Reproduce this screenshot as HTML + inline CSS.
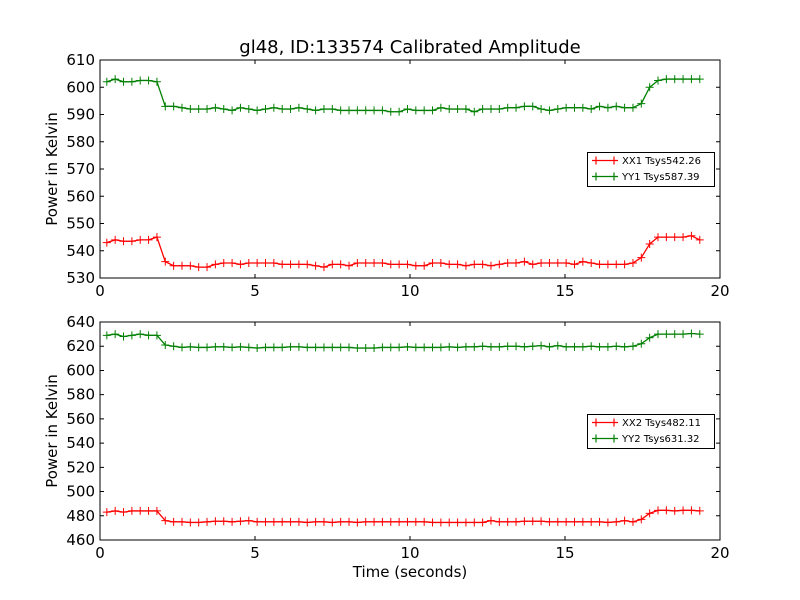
<!DOCTYPE html>
<html><head><meta charset="utf-8"><style>
html,body{margin:0;padding:0;background:#fff;}
svg{display:block;font-family:"DejaVu Sans","Liberation Sans",sans-serif;}
</style></head><body>
<svg id="chart" width="800" height="600" viewBox="0 0 800 600"></svg>
<script>
// Data
const tStart = 0.22, tStep = 0.2694;
const xx1 = [543,544,543.5,543.5,544,544,545,
 536,534.5,534.5,534.5,534,534,535,535.5,535.5,535,
 535.5,535.5,535.5,535.5,535,535,535,535,534.5,534,
 535,535,534.5,535.5,535.5,535.5,535.5,535,535,535,
 534.5,534.5,535.5,535.5,535,535,534.5,535,535,534.5,
 535,535.5,535.5,536,535,535.5,535.5,535.5,535.5,535,
 536,535.5,535,535,535,535,535.5,
 537.5,542.5,545,545,545,545,545.5,544];
const yy1 = [602,603,602,602,602.5,602.5,602,
 593,593,592.5,592,592,592,592.5,592,591.5,592.5,
 592,591.5,592,592.5,592,592,592.5,592,591.5,592,
 592,591.5,591.5,591.5,591.5,591.5,591.5,591,591,592,
 591.5,591.5,591.5,592.5,592,592,592,591,592,592,
 592,592.5,592.5,593,593,592,591.5,592,592.5,592.5,
 592.5,592,593,592.5,593,592.5,592.5,
 594,600,602.5,603,603,603,603,603];
const xx2 = [483,484,483,484,484,484,484,
 476,475,475,474.5,474.5,475,475.5,475.5,475,475.5,
 476,475,475,475,475,475,475,474.5,475,475,
 474.5,475,475,474.5,475,475,475,475,475,475,
 475,475,474.5,474.5,474.5,474.5,474.5,474.5,474.5,476,
 475,475,475,475.5,475.5,475.5,475,475,475,475,
 475,475,475,474.5,475,476,475,
 477,482,484.5,484.5,484,484.5,484.5,484];
const yy2 = [629,630,628,629,630,629,629,
 621,620,619,619.5,619,619,619.5,619.5,619,619.5,
 619,618.5,619,619,619,619.5,619.5,619,619,619,
 619,619,619,618.5,618.5,618.5,619,619,619,619.5,
 619,619,619,619,619.5,619,619.5,619.5,620,619.5,
 619.5,620,620,619.5,620,620.5,619.5,620.5,619.5,619.5,
 619.5,620,619.5,619.5,620,619.5,620,
 622,627,630,630,630,630,630.5,630];
const xTicks = [0,5,10,15,20];
const yTicksTop = [530,540,550,560,570,580,590,600,610];
const yTicksBot = [460,480,500,520,540,560,580,600,620,640];
const legendTop = ["XX1 Tsys542.26","YY1 Tsys587.39"];
const legendBot = ["XX2 Tsys482.11","YY2 Tsys631.32"];

const NS="http://www.w3.org/2000/svg";
const svg=document.getElementById('chart');
function mk(tag,attrs,parent){const e=document.createElementNS(NS,tag);for(const k in attrs)e.setAttribute(k,attrs[k]);(parent||svg).appendChild(e);return e;}

function panel(top,bottom,ymin,ymax,yTicks,series,legend,legY,pname){
  const L=100,R=720;
  const g=mk('g',{});
  
  
  const sx=v=>L+(v-0)/(20-0)*(R-L);
  const sy=v=>bottom-(v-ymin)/(ymax-ymin)*(bottom-top);
  mk('rect',{x:L,y:top,width:R-L,height:bottom-top,fill:'#fff'},g);
  xTicks.forEach(t=>{
    const x=sx(t);
    const tk=mk('path',{d:`M${x},${bottom}v-4M${x},${top}v4`,stroke:'#000','stroke-width':1},g);
    
    
    const lb=mk('text',{x:x,y:bottom+18,'text-anchor':'middle','font-size':15},g);
    lb.textContent=t;
    
    
  });
  yTicks.forEach(t=>{
    const y=sy(t);
    const tk=mk('path',{d:`M${L},${y}h4M${R},${y}h-4`,stroke:'#000','stroke-width':1},g);
    
    
    const lb=mk('text',{x:L-5,y:y+5,'text-anchor':'end','font-size':15},g);
    lb.textContent=t;
    
    
  });
  series.forEach((s,si)=>{
    const pts=s.data.map((v,i)=>[sx(tStart+tStep*i),sy(v)]);
    const line=mk('polyline',{points:pts.map(p=>p.join(',')).join(' '),fill:'none',stroke:s.color,'stroke-width':1.3},g);
    
    
    let d='';pts.forEach(p=>{d+=`M${p[0]-4},${p[1]}h8M${p[0]},${p[1]-4}v8`;});
    const mks=mk('path',{d:d,stroke:s.color,'stroke-width':1},g);
    
    
  });
  const frame=mk('rect',{x:L,y:top,width:R-L,height:bottom-top,fill:'none',stroke:'#000','stroke-width':1},g);
  
  
  const yl=mk('text',{x:0,y:0,transform:`translate(57,${(top+bottom)/2}) rotate(-90)`,'text-anchor':'middle','font-size':15},g);
  yl.textContent='Power in Kelvin';
  
  
  const lg=mk('g',{},g);
  
  
  mk('rect',{x:587.5,y:legY,width:127,height:34,fill:'#fff',stroke:'#000','stroke-width':1},lg);
  series.forEach((s,si)=>{
    const yy=legY+8+si*16;
    mk('path',{d:`M592,${yy}h26M596,${yy-4}v8M614,${yy-4}v8`,stroke:s.color,'stroke-width':1.2},lg);
    const t=mk('text',{x:622,y:yy+3.5,'font-size':10},lg);
    t.textContent=legend[si];
    
    
  });
}
panel(60,278,530,610,yTicksTop,[{data:xx1,color:'#ff0000',name:'xx1'},{data:yy1,color:'#008000',name:'yy1'}],legendTop,152.5,'top-panel');
panel(322,540,460,640,yTicksBot,[{data:xx2,color:'#ff0000',name:'xx2'},{data:yy2,color:'#008000',name:'yy2'}],legendBot,414.5,'bottom-panel');
const title=mk('text',{x:410,y:53,'text-anchor':'middle','font-size':18});
title.textContent='gl48, ID:133574 Calibrated Amplitude';


const xt=mk('text',{x:410,y:577,'text-anchor':'middle','font-size':15});
xt.textContent='Time (seconds)';


</script>
</body></html>
